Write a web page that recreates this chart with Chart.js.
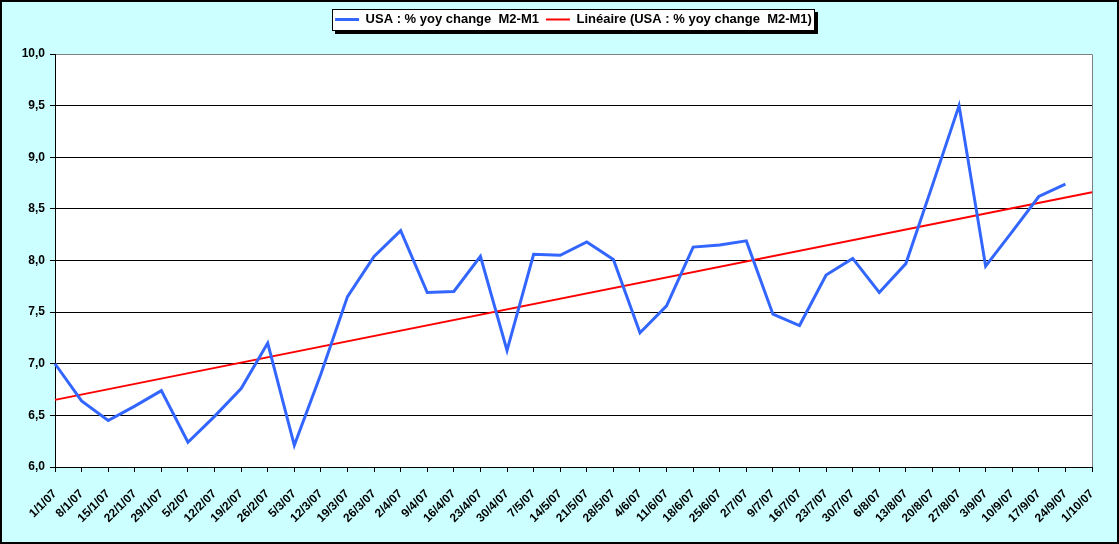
<!DOCTYPE html>
<html>
<head>
<meta charset="utf-8">
<title>USA : % yoy change M2-M1</title>
<script src="https://cdn.jsdelivr.net/npm/chart.js@4.4.0/dist/chart.umd.min.js"></script>
<style>
  html, body { margin: 0; padding: 0; background: #ccffff; }
  #wrap { width: 1119px; height: 544px; }
</style>
</head>
<body>
<div id="wrap"><canvas id="m2m1Chart" width="1119" height="544"></canvas></div>
<script>
// Données (hebdomadaire, 2007)
const dateLabels = [
  '1/1/07', '8/1/07', '15/1/07', '22/1/07', '29/1/07', '5/2/07', '12/2/07', '19/2/07',
  '26/2/07', '5/3/07', '12/3/07', '19/3/07', '26/3/07', '2/4/07', '9/4/07', '16/4/07',
  '23/4/07', '30/4/07', '7/5/07', '14/5/07', '21/5/07', '28/5/07', '4/6/07', '11/6/07',
  '18/6/07', '25/6/07', '2/7/07', '9/7/07', '16/7/07', '23/7/07', '30/7/07', '6/8/07',
  '13/8/07', '20/8/07', '27/8/07', '3/9/07', '10/9/07', '17/9/07', '24/9/07', '1/10/07'
];

const m2m1Values = [
  7.00, 6.64, 6.45, 6.59, 6.74, 6.24, 6.49, 6.76,
  7.20, 6.21, 6.90, 7.65, 8.04, 8.29, 7.69, 7.70,
  8.04, 7.13, 8.06, 8.05, 8.18, 8.01, 7.30, 7.56,
  8.13, 8.15, 8.19, 7.48, 7.37, 7.86, 8.02, 7.69,
  7.97, 8.73, 9.50, 7.945, 8.28, 8.62, 8.74
];

// Droite de tendance linéaire (extrémités)
const trendDates = ['1/1/07', '1/10/07'];
const trendValues = [6.65, 8.66];

const yMin = 6;
const yMax = 10;
const yStep = 0.5;

const FONT = "'Liberation Sans', Arial, sans-serif";

// Fond, cadre de la zone de tracé, cadre de la légende
const excelFrame = {
  id: 'excelFrame',
  beforeDraw(chart) {
    const ctx = chart.ctx;
    const a = chart.chartArea;
    ctx.save();
    ctx.fillStyle = '#ccffff';
    ctx.fillRect(0, 0, chart.width, chart.height);
    ctx.fillStyle = '#ffffff';
    ctx.fillRect(a.left, a.top, a.right - a.left, a.bottom - a.top);
    ctx.strokeStyle = '#808080';
    ctx.lineWidth = 1;
    ctx.beginPath();
    ctx.moveTo(a.left, a.top + 0.5);
    ctx.lineTo(a.right + 0.5, a.top + 0.5);
    ctx.lineTo(a.right + 0.5, a.bottom);
    ctx.stroke();

    const boxes = chart.legend && chart.legend.legendHitBoxes;
    if (boxes && boxes.length) {
      const first = boxes[0];
      const last = boxes[boxes.length - 1];
      const l = Math.round(first.left - 3);
      const t = Math.round(first.top - 4);
      const r = Math.round(last.left + last.width + 3);
      const b = Math.round(first.top + first.height + 5);
      ctx.fillStyle = '#000000';
      ctx.fillRect(l + 3, t + 3, r - l, b - t);
      ctx.fillStyle = '#ffffff';
      ctx.fillRect(l, t, r - l, b - t);
      ctx.strokeStyle = '#000000';
      ctx.strokeRect(l + 0.5, t + 0.5, r - l - 1, b - t - 1);
    }
    ctx.restore();
  },
  afterDraw(chart) {
    const ctx = chart.ctx;
    ctx.save();
    ctx.strokeStyle = '#000000';
    ctx.lineWidth = 2;
    ctx.strokeRect(1, 1, chart.width - 2, chart.height - 2);
    ctx.restore();
  }
};

const ctx = document.getElementById('m2m1Chart');

new Chart(ctx, {
  type: 'line',
  data: {
    labels: dateLabels,
    datasets: [
      {
        label: 'USA : % yoy change  M2-M1',
        data: m2m1Values,
        borderColor: '#3366ff',
        backgroundColor: '#3366ff',
        borderWidth: 3,
        pointRadius: 0,
        tension: 0,
        fill: false
      },
      {
        label: 'Linéaire (USA : % yoy change  M2-M1)',
        data: trendDates.map((d, i) => ({ x: d, y: trendValues[i] })),
        borderColor: '#ff0000',
        backgroundColor: '#ff0000',
        borderWidth: 2,
        pointRadius: 0,
        tension: 0,
        fill: false
      }
    ]
  },
  options: {
    responsive: false,
    animation: false,
    devicePixelRatio: 1,
    layout: {
      padding: { left: 0, right: 27, top: 6, bottom: 0 }
    },
    scales: {
      x: {
        type: 'category',
        offset: false,
        afterFit: (scale) => { scale.height = 77; },
        grid: {
          drawOnChartArea: false,
          drawTicks: true,
          tickLength: 5,
          tickColor: '#000000'
        },
        border: { display: true, color: '#000000', width: 1 },
        ticks: {
          autoSkip: false,
          minRotation: 45,
          maxRotation: 45,
          padding: 20,
          color: '#000000',
          font: { family: FONT, size: 12, weight: 'bold', lineHeight: 0.01 }
        }
      },
      y: {
        min: yMin,
        max: yMax,
        afterFit: (scale) => { scale.width = 55; },
        grid: {
          color: (c) => (c.tick && c.tick.value === yMax ? '#808080' : '#000000'),
          lineWidth: 1,
          tickLength: 5,
          tickColor: '#000000'
        },
        border: { display: true, color: '#000000', width: 1 },
        ticks: {
          stepSize: yStep,
          padding: 5,
          color: '#000000',
          font: { family: FONT, size: 12, weight: 'bold' },
          callback: (v) => Number(v).toFixed(1).replace('.', ',')
        }
      }
    },
    plugins: {
      legend: {
        position: 'top',
        align: 'center',
        fullSize: false,
        weight: 1000,
        labels: {
          usePointStyle: true,
          pointStyle: 'line',
          pointStyleWidth: 24,
          padding: 7,
          color: '#000000',
          font: { family: FONT, size: 13, weight: 'bold' }
        }
      },
      // Espace vide entre la légende et la zone de tracé
      title: {
        display: true,
        text: '',
        weight: 500,
        padding: { top: 0, bottom: 8 },
        font: { size: 10, lineHeight: 1 }
      },
      tooltip: { enabled: false }
    }
  },
  plugins: [excelFrame]
});
</script>
</body>
</html>
